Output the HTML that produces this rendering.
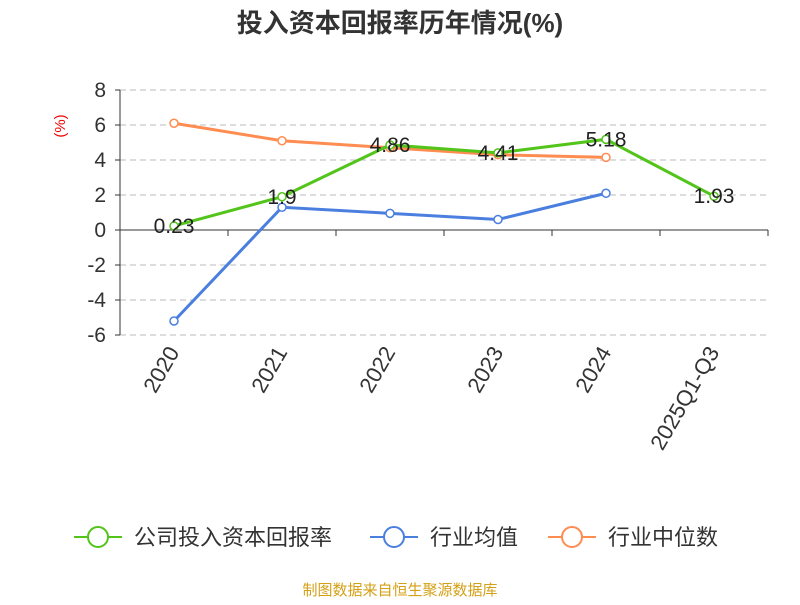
<!DOCTYPE html>
<html><head><meta charset="utf-8"><style>
body{margin:0;background:#fff;}
svg{font-family:"Liberation Sans","Noto Sans CJK SC",sans-serif;}
</style></head><body>
<svg id="c" width="800" height="600">
<text x="400" y="32" text-anchor="middle" font-size="26" font-weight="bold" fill="#333">投入资本回报率历年情况(%)</text>
<text x="65" y="126" font-size="15" fill="#e00" transform="rotate(-90 65 126)" text-anchor="middle">(%)</text>
<g id="grid"></g><g id="axes"></g><g id="series"></g>
<g>
 <g><line x1="74" y1="537" x2="122" y2="537" stroke="#52c41a" stroke-width="2"/><circle cx="98" cy="537" r="10" fill="#fff" stroke="#52c41a" stroke-width="2"/><text x="134" y="545" font-size="22" fill="#333">公司投入资本回报率</text></g>
 <g><line x1="370" y1="537" x2="418" y2="537" stroke="#4a7fe0" stroke-width="2"/><circle cx="394" cy="537" r="10" fill="#fff" stroke="#4a7fe0" stroke-width="2"/><text x="430" y="545" font-size="22" fill="#333">行业均值</text></g>
 <g><line x1="548" y1="537" x2="596" y2="537" stroke="#ff8c50" stroke-width="2"/><circle cx="572" cy="537" r="10" fill="#fff" stroke="#ff8c50" stroke-width="2"/><text x="608" y="545" font-size="22" fill="#333">行业中位数</text></g>
</g>
<text x="400" y="595" text-anchor="middle" font-size="15" fill="#d4a017">制图数据来自恒生聚源数据库</text>
</svg>
<script>
const categories=["2020","2021","2022","2023","2024","2025Q1-Q3"];
const companyVals=[0.23,1.9,4.86,4.41,5.18,1.93];
const avgVals=[-5.2,1.3,0.95,0.6,2.1,null];
const medianVals=[6.1,5.1,4.7,4.3,4.15,null];
const yTicks=[8,6,4,2,0,-2,-4,-6];
const NS="http://www.w3.org/2000/svg";
const x0=120,x1=768,band=(x1-x0)/categories.length;
const xs=i=>x0+band*(i+0.5);
const ys=v=>230-v*17.5;
function mk(t,a,p){const e=document.createElementNS(NS,t);for(const k in a)e.setAttribute(k,a[k]);p.appendChild(e);return e;}
const grid=document.getElementById('grid'),axes=document.getElementById('axes'),ser=document.getElementById('series');
yTicks.forEach(v=>{
 if(v!==0){const l=mk('line',{x1:x0,x2:x1,y1:ys(v),y2:ys(v),stroke:'#bbb','stroke-dasharray':'6,4'},grid);
 
 }
 mk('line',{x1:x0-5,x2:x0,y1:ys(v),y2:ys(v),stroke:'#333'},axes);
 const t=mk('text',{x:x0-14,y:ys(v)+7,'text-anchor':'end','font-size':21,fill:'#333'},axes);t.textContent=v;
 
 
});
mk('line',{x1:x0,x2:x0,y1:ys(8),y2:ys(-6),stroke:'#333'},axes);
mk('line',{x1:x0,x2:x1,y1:ys(0),y2:ys(0),stroke:'#333'},axes);
for(let i=0;i<=categories.length;i++)mk('line',{x1:x0+band*i,x2:x0+band*i,y1:ys(0),y2:ys(0)+6,stroke:'#333'},axes);
categories.forEach((c,i)=>{
 const x=xs(i)+6,y=352;
 const t=mk('text',{x:x,y:y,'text-anchor':'end','font-size':22,fill:'#333',transform:`rotate(-60 ${x} ${y})`},axes);t.textContent=c;
 
 
});
function series(vals,color,name,labels){
 const pts=vals.map((v,i)=>v==null?null:[xs(i),ys(v)]).filter(p=>p);
 const pl=mk('polyline',{points:pts.map(p=>p.join(',')).join(' '),fill:'none',stroke:color,'stroke-width':3},ser);
 
 
 vals.forEach((v,i)=>{if(v==null)return;
  const c=mk('circle',{cx:xs(i),cy:ys(v),r:4,fill:'#fff',stroke:color,'stroke-width':1.5},ser);
  
  
  if(labels){const t=mk('text',{x:xs(i),y:ys(v)+7,'text-anchor':'middle','font-size':21,fill:'#222'},ser);t.textContent=v;
  
  }
 });
}
series(medianVals,'#ff8c50','industry-median',false);
series(avgVals,'#4a7fe0','industry-avg',false);
series(companyVals,'#52c41a','company',true);
</script>
</body></html>
